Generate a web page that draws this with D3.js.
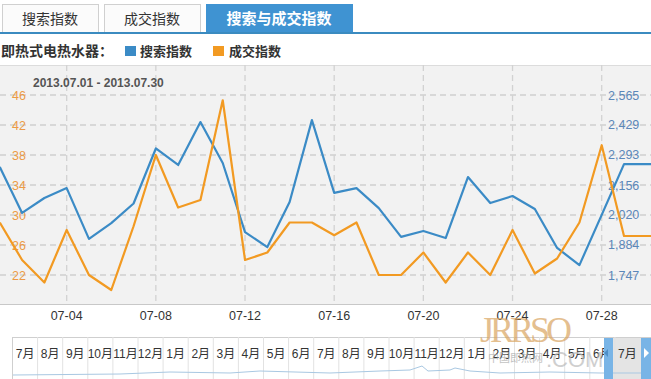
<!doctype html>
<html>
  <head>
    <meta charset="utf-8">
    <style>
      body { margin: 0; background: #fff; font-family: "Liberation Sans", Arial, "Noto Sans CJK SC", sans-serif; }
    </style>
  </head>
  <body>
    <svg width="651" height="379" id="content"></svg>

    <script src="https://cdnjs.cloudflare.com/ajax/libs/d3/7.8.5/d3.min.js"></script>
    <script>
      const days = d3.range(1, 31)
      const searchIndex = [2238, 2029, 2097, 2142, 1911, 1983, 2072, 2322, 2247, 2442, 2256, 1942, 1874, 2079, 2451,
        2120, 2142, 2051, 1920, 1947, 1915, 2192, 2074, 2106, 2047, 1870, 1792, 2020, 2251, 2251]
      const dealIndex = [29, 24, 21, 28, 22, 20, 28.5, 38, 31, 32, 45.3, 24, 25, 29, 29,
        27.3, 29, 22, 22, 25, 21, 25, 22, 28, 22.2, 24.2, 29, 39.3, 27.2, 27.2]
      const leftTicks = [22, 26, 30, 34, 38, 42, 46]
      const rightTicks = [1747, 1884, 2020, 2156, 2293, 2429, 2565]
      const xTickDays = [4, 8, 12, 16, 20, 24, 28]
      const tabs = ['搜索指数', '成交指数', '搜索与成交指数']
      const months = ['7月', '8月', '9月', '10月', '11月', '12月', '1月', '2月', '3月', '4月', '5月', '6月',
        '7月', '8月', '9月', '10月', '11月', '12月', '1月', '2月', '3月', '4月', '5月', '6月', '7月']

      const blue = '#3b8bc6'
      const orange = '#f29a22'

      const svg = d3.select('#content')

      // tabs
      const tabX = [2, 104, 206]
      const tabW = [96, 96, 146]
      tabs.forEach((t, i) => {
        const active = i === 2
        svg.append('rect')
          .attr('x', tabX[i] + 0.5).attr('y', 4.5)
          .attr('width', tabW[i]).attr('height', 29)
          .style('fill', active ? '#3f93d2' : '#fbfbfb')
          .style('stroke', active ? '#3f93d2' : '#d0d0d0')
        svg.append('text')
          .attr('x', tabX[i] + tabW[i] / 2).attr('y', 24)
          .attr('text-anchor', 'middle')
          .style('font-size', active ? '15px' : '14px')
          .style('font-weight', active ? 'bold' : 'normal')
          .style('fill', active ? '#fff' : '#333')
          .text(t)
      })
      svg.append('rect').attr('x', 0).attr('y', 32).attr('width', 651).attr('height', 2).style('fill', '#3b8bc0')

      // legend row
      svg.append('text').attr('x', 1).attr('y', 56)
        .style('font-size', '14px').style('font-weight', 'bold').style('fill', '#333')
        .text('即热式电热水器：')
      svg.append('rect').attr('x', 125).attr('y', 46).attr('width', 11).attr('height', 10).style('fill', blue)
      svg.append('text').attr('x', 140).attr('y', 56)
        .style('font-size', '13px').style('font-weight', 'bold').style('fill', '#333').text('搜索指数')
      svg.append('rect').attr('x', 213).attr('y', 46).attr('width', 11).attr('height', 10).style('fill', orange)
      svg.append('text').attr('x', 229).attr('y', 56)
        .style('font-size', '13px').style('font-weight', 'bold').style('fill', '#333').text('成交指数')

      // plot area
      const plotTop = 65
      const plotBottom = 304
      const x = d3.scaleLinear().domain([1, 30]).range([-0.2, 646.3])
      const yL = d3.scaleLinear().domain([18, 50]).range([305, 65])
      const yR = d3.scaleLinear().domain([1747, 2565]).range([yL(22), yL(46)])

      svg.append('rect').attr('x', 0).attr('y', plotTop).attr('width', 651).attr('height', plotBottom - plotTop)
        .style('fill', '#f2f2f2')
      svg.append('line').attr('x1', 0).attr('x2', 651).attr('y1', plotTop + 0.5).attr('y2', plotTop + 0.5)
        .style('stroke', '#dcdcdc')

      const grid = svg.append('g')
      grid.selectAll('line.h').data(leftTicks).enter().append('line')
        .attr('x1', 0).attr('x2', 651)
        .attr('y1', d => yL(d)).attr('y2', d => yL(d))
        .style('stroke', '#cfcfcf').style('stroke-width', 1.3).style('stroke-dasharray', '6,4')
      grid.selectAll('line.v').data(xTickDays).enter().append('line')
        .attr('x1', d => x(d)).attr('x2', d => x(d))
        .attr('y1', plotTop).attr('y2', plotBottom)
        .style('stroke', '#d2d2d2').style('stroke-width', 1.3).style('stroke-dasharray', '6,4')

      svg.append('line').attr('x1', 0).attr('x2', 651).attr('y1', plotBottom + 0.5).attr('y2', plotBottom + 0.5)
        .style('stroke', '#c8c8c8')

      svg.append('text').attr('x', 33).attr('y', 87)
        .style('font-size', '12px').style('font-weight', 'bold').style('fill', '#555')
        .text('2013.07.01 - 2013.07.30')

      // axis labels
      svg.selectAll('text.yl').data(leftTicks).enter().append('text')
        .attr('x', 12).attr('y', d => yL(d) + 4.5)
        .style('font-size', '12.5px').style('fill', '#ec9a45')
        .text(d => d)
      svg.selectAll('text.yr').data(rightTicks).enter().append('text')
        .attr('x', 608).attr('y', d => yR(d) + 4.5)
        .style('font-size', '12.5px').style('fill', '#5b87b9')
        .text(d => d3.format(',')(d))
      svg.selectAll('text.xl').data(xTickDays).enter().append('text')
        .attr('x', d => x(d)).attr('y', 320)
        .attr('text-anchor', 'middle')
        .style('font-size', '12.5px').style('fill', '#333')
        .text(d => '07-' + d3.format('02')(d))

      // lines
      const clip = svg.append('clipPath').attr('id', 'plotclip')
      clip.append('rect').attr('x', 0).attr('y', plotTop).attr('width', 651).attr('height', plotBottom - plotTop)
      const lines = svg.append('g').attr('clip-path', 'url(#plotclip)')

      const searchLine = d3.line().x((d, i) => x(days[i])).y(d => yR(d))
      const dealLine = d3.line().x((d, i) => x(days[i])).y(d => yL(d))
      // last value carried to the right edge
      lines.append('path').datum(searchIndex)
        .attr('d', d => searchLine(d) + 'H651')
        .style('fill', 'none').style('stroke', blue).style('stroke-width', 2.2).style('stroke-linejoin', 'round')
      lines.append('path').datum(dealIndex)
        .attr('d', d => dealLine(d) + 'H651')
        .style('fill', 'none').style('stroke', orange).style('stroke-width', 2.2).style('stroke-linejoin', 'round')

      // navigator
      const navTop = 337
      const nav = svg.append('g')
      nav.append('rect').attr('x', 12.5).attr('y', navTop + 0.5).attr('width', 640).attr('height', 50)
        .style('fill', '#fff').style('stroke', '#cfcfcf')
      nav.append('rect').attr('x', 613).attr('y', navTop + 1).attr('width', 28).attr('height', 42).style('fill', '#e4e4e4')
      const navStep = 25.1
      months.forEach((m, i) => {
        const x0 = 12.5 + i * navStep
        if (i > 0) {
          nav.append('line').attr('x1', x0).attr('x2', x0).attr('y1', navTop).attr('y2', 379)
            .style('stroke', '#e2e2e2')
        }
        nav.append('text').attr('x', x0 + navStep / 2).attr('y', 358)
          .attr('text-anchor', 'middle')
          .style('font-size', '12px').style('fill', '#333')
          .text(m)
      })
      nav.append('path')
        .attr('d', 'M13,375 L120,374 L170,372 L230,373 L260,371 L330,373 L380,371 L410,370 L422,366 L428,371 L450,370 L455,368 L470,371 L500,373 L550,372 L600,373 L651,373')
        .style('fill', 'none').style('stroke', '#a9c8e2').style('stroke-width', 1)

      nav.append('rect').attr('x', 604).attr('y', navTop + 1).attr('width', 9).attr('height', 42).style('fill', '#78b4e6')
      nav.append('rect').attr('x', 641).attr('y', navTop + 1).attr('width', 10).attr('height', 42).style('fill', '#78b4e6')
      nav.append('path').attr('d', 'M604,353 L608,349 L608,357 Z').style('fill', '#4d8fc8')
      nav.append('path').attr('d', 'M644,348 L649,353 L644,358 Z').style('fill', '#fff')

      // watermark
      const wm = svg.append('g').style('opacity', 0.7)
      wm.append('text').attr('x', 480).attr('y', 342)
        .style('font-family', '"Liberation Serif", serif').style('font-size', '36px')
        .style('fill', '#d9a460').style('letter-spacing', '-4px')
        .text('JRRSO')
      wm.append('text').attr('x', 488).attr('y', 362)
        .style('font-size', '11px').style('fill', '#aaa').text('中国即热网')
      wm.append('text').attr('x', 546).attr('y', 367)
        .style('font-size', '22px').style('fill', '#bbb').text('.COM')
    </script>
  </body>
</html>
